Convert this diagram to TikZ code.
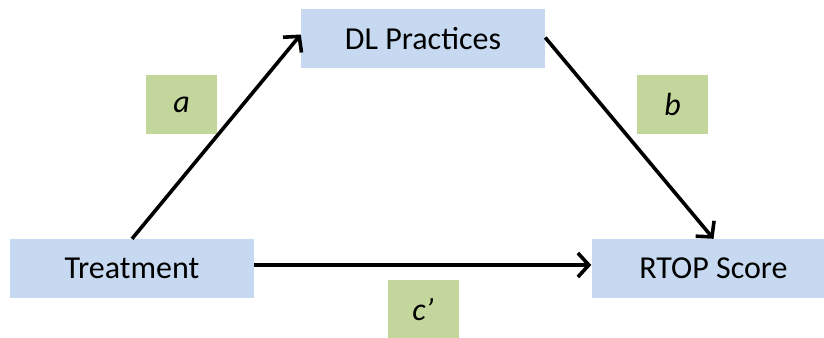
\documentclass[tikz,border=0pt]{standalone}
\usepackage{fontspec}
\setmainfont{Carlito}
\usetikzlibrary{arrows.meta}
\definecolor{boxblue}{RGB}{198,217,240}
\definecolor{boxgreen}{RGB}{195,214,155}
\tikzset{
  varbox/.style={fill=boxblue, minimum width=244bp, minimum height=59bp, inner sep=0pt,
    font=\fontsize{32bp}{38bp}\selectfont},
  coefbox/.style={fill=boxgreen, minimum width=71bp, minimum height=59bp, inner sep=0pt,
    font=\fontsize{32bp}{38bp}\selectfont\itshape},
  pathline/.style={line width=3.6bp, -{Straight Barb[length=11bp,width=24bp,line width=3.6bp]}}
}
\begin{document}
\begin{tikzpicture}[x=1bp,y=-1bp]
\useasboundingbox (0,0) rectangle (824,337);
\clip (0,0) rectangle (824,337);
\node[varbox] (D) at (423,38.5) {DL Practices};
\node[varbox] (T) at (132,268.5) {Treatment};
\node[varbox] (R) at (713.5,268.5) {RTOP Score};
\node[coefbox] (A) at (181.5,104.5) {a};
\node[coefbox] (B) at (672.5,104.5) {b};
\node[coefbox] (C) at (423,309.5) {c’};
\draw[pathline] (T.north) -- ([yshift=4bp]D.west);
\draw[pathline] ([yshift=1bp]D.east) -- (R.north);
\draw[pathline] ([yshift=3.5bp]T.east) -- ([yshift=3.5bp]R.west);
\end{tikzpicture}
\end{document}
